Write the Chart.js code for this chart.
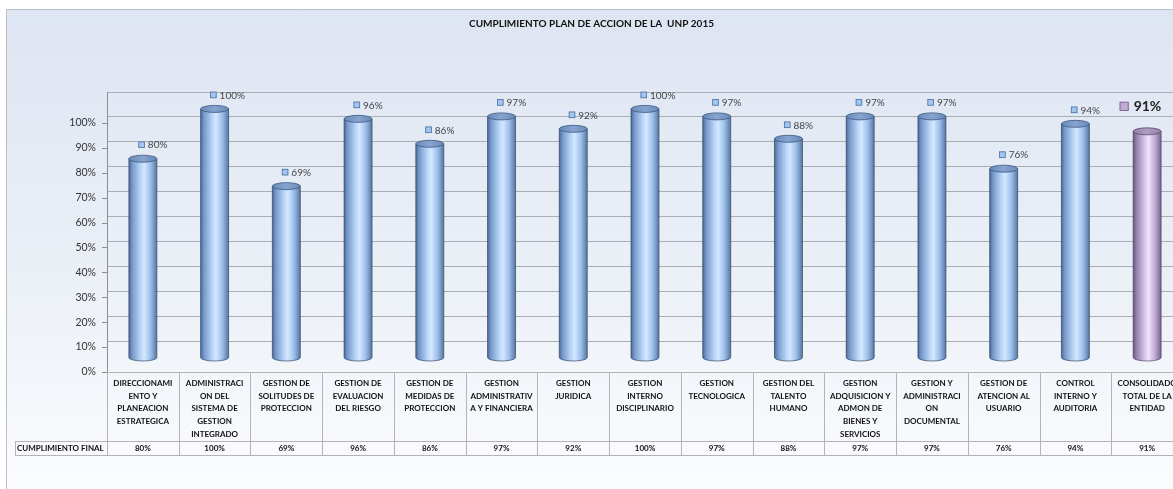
<!DOCTYPE html>
<html><head><meta charset="utf-8">
<script src="https://cdn.jsdelivr.net/npm/chart.js@4.4.1/dist/chart.umd.min.js"></script>
<style>html,body{margin:0;padding:0;overflow:hidden;background:#fff;width:1173px;height:489px}canvas{position:absolute;left:0;top:0}</style>
</head><body><canvas id="c" width="1190" height="489"></canvas>
<script>
const chartTitle = 'CUMPLIMIENTO PLAN DE ACCION DE LA  UNP 2015';
const categories = [
  ['DIRECCIONAMI','ENTO Y','PLANEACION','ESTRATEGICA'],
  ['ADMINISTRACI','ON DEL','SISTEMA DE','GESTION','INTEGRADO'],
  ['GESTION DE','SOLITUDES DE','PROTECCION'],
  ['GESTION DE','EVALUACION','DEL RIESGO'],
  ['GESTION DE','MEDIDAS DE','PROTECCION'],
  ['GESTION','ADMINISTRATIV','A Y FINANCIERA'],
  ['GESTION','JURIDICA'],
  ['GESTION','INTERNO','DISCIPLINARIO'],
  ['GESTION','TECNOLOGICA'],
  ['GESTION DEL','TALENTO','HUMANO'],
  ['GESTION','ADQUISICION Y','ADMON DE','BIENES Y','SERVICIOS'],
  ['GESTION Y','ADMINISTRACI','ON','DOCUMENTAL'],
  ['GESTION DE','ATENCION AL','USUARIO'],
  ['CONTROL','INTERNO Y','AUDITORIA'],
  ['CONSOLIDADO','TOTAL DE LA','ENTIDAD']
];
const cumplimiento = [80, 100, 69, 96, 86, 97, 92, 100, 97, 88, 97, 97, 76, 94, 91];
const rowLabel = 'CUMPLIMIENTO FINAL';
const yTickLabels = ['0%','10%','20%','30%','40%','50%','60%','70%','80%','90%','100%'];

const FONT = 'Lato, "Open Sans", "Liberation Sans", sans-serif';
const DY = -8;      // 3D depth shift of cylinders
const FRONT = 6;    // front-face offset of tick labels/marks

const PAL = {
  blue: {
    body: [[0,'#4b6a97'],[0.12,'#7799cb'],[0.42,'#b9d6f7'],[0.55,'#d3e8ff'],[0.78,'#9bbde9'],[1,'#56779f']],
    edge: 'rgba(45,68,100,0.85)', top: '#6a8ab8', topHi: '#86a4cf', topEdge: '#3b5780',
    sq: '#a3c6ee', sqEdge: '#4d72a2'
  },
  purple: {
    body: [[0,'#675679'],[0.12,'#9581ae'],[0.42,'#d8c6ec'],[0.55,'#efe4fb'],[0.78,'#c0abd6'],[1,'#76648c']],
    edge: 'rgba(80,64,100,0.85)', top: '#9583aa', topHi: '#ad9cc2', topEdge: '#5a4a6e',
    sq: '#c0acd6', sqEdge: '#6b5883'
  }
};

function cylinder(ctx, x, w, top, bottom, pal) {
  const l = x - w/2, r = x + w/2, ry = 3.5;
  const g = ctx.createLinearGradient(l, 0, r, 0);
  pal.body.forEach(([o,c]) => g.addColorStop(o, c));
  ctx.beginPath();
  ctx.moveTo(l, top);
  ctx.lineTo(l, bottom);
  ctx.ellipse(x, bottom, w/2, ry, 0, Math.PI, 0, true);
  ctx.lineTo(r, top);
  ctx.closePath();
  ctx.fillStyle = g; ctx.fill();
  ctx.strokeStyle = pal.edge; ctx.lineWidth = 0.8; ctx.stroke();
  const tg = ctx.createLinearGradient(l, 0, r, 0);
  tg.addColorStop(0, pal.top); tg.addColorStop(0.5, pal.topHi); tg.addColorStop(1, pal.top);
  ctx.beginPath();
  ctx.ellipse(x, top, w/2, ry, 0, 0, Math.PI*2);
  ctx.fillStyle = tg; ctx.fill();
  ctx.strokeStyle = pal.topEdge; ctx.lineWidth = 0.8; ctx.stroke();
}

const bgPlugin = {
  id: 'bg',
  beforeDraw(chart) {
    const {ctx, width, height} = chart;
    ctx.save();
    ctx.fillStyle = '#fff'; ctx.fillRect(0, 0, width, height);
    const g = ctx.createLinearGradient(0, 9, 0, height);
    g.addColorStop(0, '#dee5f2'); g.addColorStop(0.55, '#ebf0f7'); g.addColorStop(1, '#fbfcfe');
    ctx.fillStyle = g; ctx.fillRect(6, 9, width - 6, height - 9);
    ctx.strokeStyle = '#b7bfcb'; ctx.lineWidth = 1;
    ctx.beginPath(); ctx.moveTo(6.5, height); ctx.lineTo(6.5, 9.5); ctx.lineTo(width, 9.5); ctx.stroke();
    ctx.restore();
  }
};

const cylPlugin = {
  id: 'cyl',
  afterDatasetsDraw(chart) {
    const {ctx} = chart;
    const meta = chart.getDatasetMeta(0);
    const last = categories.length - 1;
    ctx.save();
    meta.data.forEach((el, i) => {
      const pal = i === last ? PAL.purple : PAL.blue;
      cylinder(ctx, el.x, el.width, el.y + DY, el.base + DY, pal);
    });
    meta.data.forEach((el, i) => {
      const total = i === last;
      const pal = total ? PAL.purple : PAL.blue;
      const txt = cumplimiento[i] + '%';
      const sq = total ? 9 : 6.5;
      const sx = total ? el.x - 27.5 : el.x - 4.5;
      const cy = total ? el.y - 33 : el.y - 22;
      ctx.fillStyle = pal.sq; ctx.strokeStyle = pal.sqEdge; ctx.lineWidth = 0.8;
      ctx.fillRect(sx, cy - sq/2, sq, sq); ctx.strokeRect(sx + 0.4, cy - sq/2 + 0.4, sq - 0.8, sq - 0.8);
      ctx.font = total ? 'bold 14px ' + FONT : '10px ' + FONT;
      ctx.fillStyle = total ? '#222' : '#444';
      ctx.textAlign = 'left'; ctx.textBaseline = 'middle';
      ctx.fillText(txt, sx + sq + (total ? 5 : 3), cy + 0.5);
    });
    ctx.restore();
  }
};

const tablePlugin = {
  id: 'table',
  afterDraw(chart) {
    const {ctx} = chart;
    const xs = chart.scales.x, ys = chart.scales.y;
    const left = xs.left, right = xs.right;
    const n = categories.length, cw = (right - left) / n;
    const floorY = ys.bottom + FRONT + 0.5, rowTop = 441.5, rowBot = 455.5;
    ctx.save();
    ctx.strokeStyle = '#8e8e8e'; ctx.lineWidth = 1;
    ctx.beginPath(); ctx.moveTo(left + 0.5, ys.top); ctx.lineTo(left + 0.5, floorY); ctx.stroke();
    ctx.beginPath();
    ys.ticks.forEach((t, i) => {
      if (i >= yTickLabels.length) return;
      const y = Math.round(ys.getPixelForValue(t.value) + FRONT) + 0.5;
      ctx.moveTo(left - 5, y); ctx.lineTo(left, y);
    });
    ctx.stroke();
    ctx.strokeStyle = '#b4b4b4';
    ctx.beginPath();
    ctx.moveTo(left, floorY); ctx.lineTo(right, floorY);
    ctx.moveTo(15, rowTop); ctx.lineTo(right, rowTop);
    ctx.moveTo(15, rowBot); ctx.lineTo(right, rowBot);
    ctx.moveTo(15.5, rowTop); ctx.lineTo(15.5, rowBot);
    for (let i = 0; i <= n; i++) {
      const x = Math.round(left + i * cw) + 0.5;
      ctx.moveTo(x, floorY); ctx.lineTo(x, rowBot);
    }
    ctx.stroke();
    ctx.fillStyle = '#111'; ctx.textBaseline = 'middle';
    ctx.font = 'bold 8px ' + FONT;
    ctx.textAlign = 'left';
    ctx.fillText(rowLabel, 17, (rowTop + rowBot) / 2);
    ctx.textAlign = 'center';
    cumplimiento.forEach((v, i) => {
      ctx.fillText(v + '%', xs.getPixelForValue(i), (rowTop + rowBot) / 2);
    });
    ctx.restore();
  }
};

new Chart(document.getElementById('c'), {
  type: 'bar',
  data: {
    labels: categories,
    datasets: [{
      label: rowLabel,
      data: cumplimiento,
      backgroundColor: 'rgba(0,0,0,0)',
      borderWidth: 0,
      categoryPercentage: 1,
      barPercentage: 0.39
    }]
  },
  options: {
    responsive: false,
    animation: false,
    layout: { padding: { left: 0, right: 7, top: 0, bottom: 0 } },
    plugins: {
      legend: { display: false },
      tooltip: { enabled: false },
      title: {
        display: true, text: chartTitle, color: '#111',
        font: { family: FONT, size: 10, weight: 'bold', lineHeight: 1.2 },
        padding: { top: 18, bottom: 62 }
      }
    },
    scales: {
      x: {
        grid: { display: false, drawTicks: false },
        border: { display: false },
        ticks: {
          color: '#111', padding: 11, maxRotation: 0, autoSkip: false,
          font: { family: FONT, size: 8, weight: 'bold', lineHeight: '12.7px' }
        },
        afterFit(s) { s.height = 123; }
      },
      y: {
        min: 0, max: 110,
        grid: { color: (c) => c.tick && c.tick.value === 0 ? 'rgba(0,0,0,0)' : '#a9adb4', drawTicks: false },
        border: { display: false },
        ticks: {
          stepSize: 10, labelOffset: FRONT, padding: 11, color: '#333',
          font: { family: FONT, size: 10.5 },
          callback: (v, i) => yTickLabels[i] ?? ''
        },
        afterFit(s) { s.width = 107; }
      }
    }
  },
  plugins: [bgPlugin, cylPlugin, tablePlugin]
});
</script>
</body></html>
